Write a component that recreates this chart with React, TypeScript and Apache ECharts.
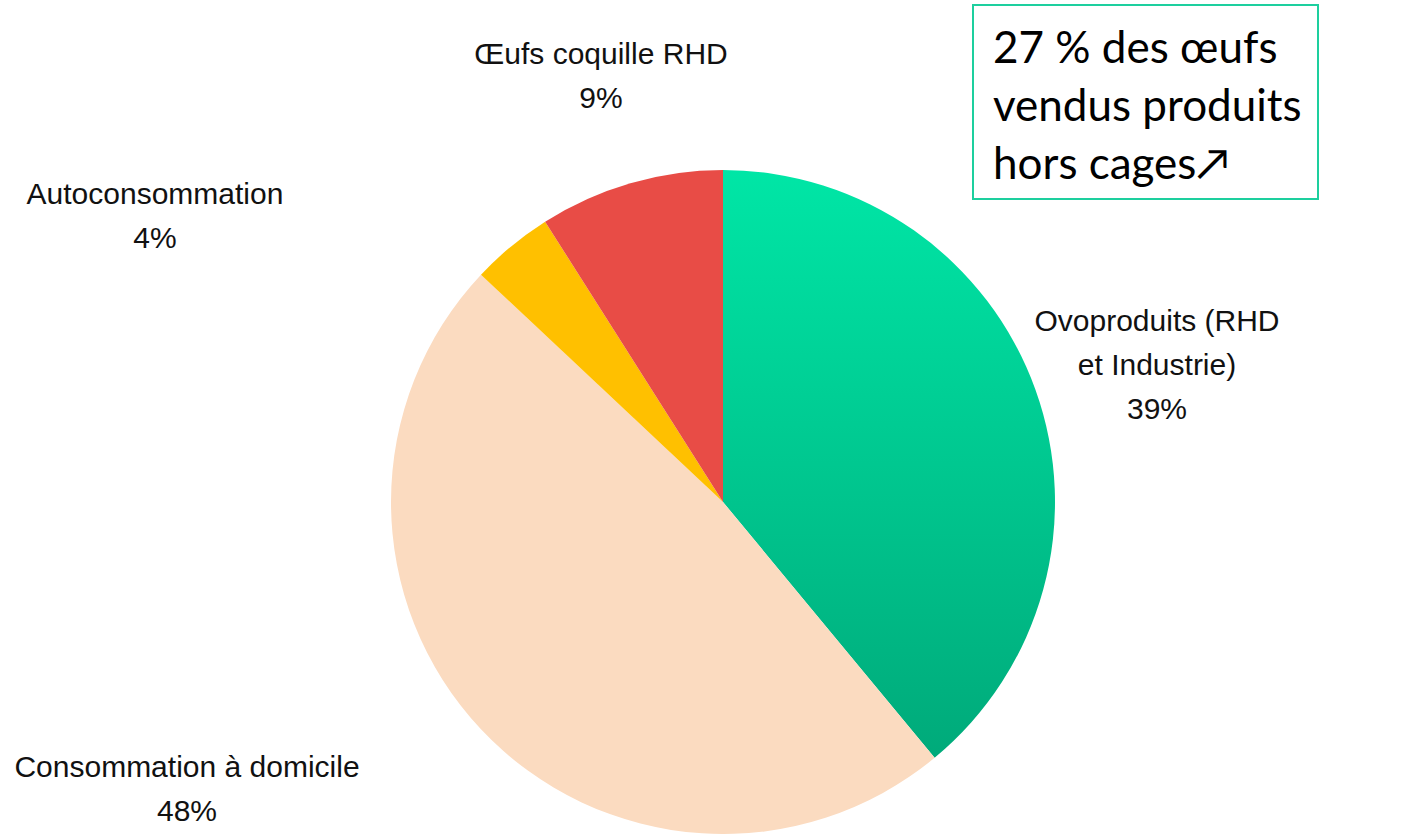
import React, { useEffect, useRef } from "react";
import * as echarts from "echarts";

const categories = [
  "Ovoproduits (RHD\net Industrie)",
  "Consommation à domicile",
  "Autoconsommation",
  "Œufs coquille RHD",
];
const values = [39, 48, 4, 9];
const percentLabels = ["39%", "48%", "4%", "9%"];
const boxLines = ["27 % des œufs", "vendus produits", "hors cages↗"];

const labelPos = [
  { x: 1157, y: 364 },
  { x: 187, y: 788 },
  { x: 155, y: 215 },
  { x: 601, y: 75 },
];

export default function App() {
  const ref = useRef<HTMLDivElement>(null);
  useEffect(() => {
    const chart = echarts.init(ref.current!, null, { renderer: "svg" });
    const colors = [
      new echarts.graphic.LinearGradient(0, 0, 0, 1, [
        { offset: 0, color: "#00E6A6" },
        { offset: 1, color: "#00AA7A" },
      ]),
      "#FBDBC0",
      "#FFC000",
      "#E84C46",
    ];
    chart.setOption({
      animation: false,
      backgroundColor: "#ffffff",
      series: [
        {
          type: "pie",
          center: [723, 502],
          radius: 332,
          startAngle: 90,
          clockwise: true,
          data: categories.map((c, i) => ({
            name: c,
            value: values[i],
            itemStyle: { color: colors[i] },
          })),
          label: {
            show: true,
            formatter: (p: any) => p.name + "\n" + percentLabels[p.dataIndex],
            fontFamily: "'Liberation Sans Narrow', 'Arial Narrow', 'Liberation Sans', sans-serif",
            fontSize: 30,
            lineHeight: 44,
            color: "#111",
            align: "center",
          },
          labelLine: { show: false },
          labelLayout: (p: any) => ({
            x: labelPos[p.dataIndex].x,
            y: labelPos[p.dataIndex].y,
            align: "center",
            verticalAlign: "middle",
          }),
          emphasis: { disabled: true },
        },
      ],
      graphic: [
        {
          type: "rect",
          shape: { x: 973, y: 5, width: 345, height: 194 },
          style: { fill: "#fff", stroke: "#1DCF9E", lineWidth: 2 },
        },
        ...boxLines.map((t, i) => ({
          type: "text",
          x: 993,
          y: 46 + i * 58,
          style: {
            text: t,
            fontFamily: "Lato, 'Open Sans', sans-serif",
            fontSize: 44,
            fill: "#000",
            verticalAlign: "middle",
          },
        })),
      ],
    });
    return () => chart.dispose();
  }, []);
  return (
    <div
      ref={ref}
      style={{ position: "fixed", left: 0, top: 0, width: 1402, height: 834 }}
    />
  );
}
